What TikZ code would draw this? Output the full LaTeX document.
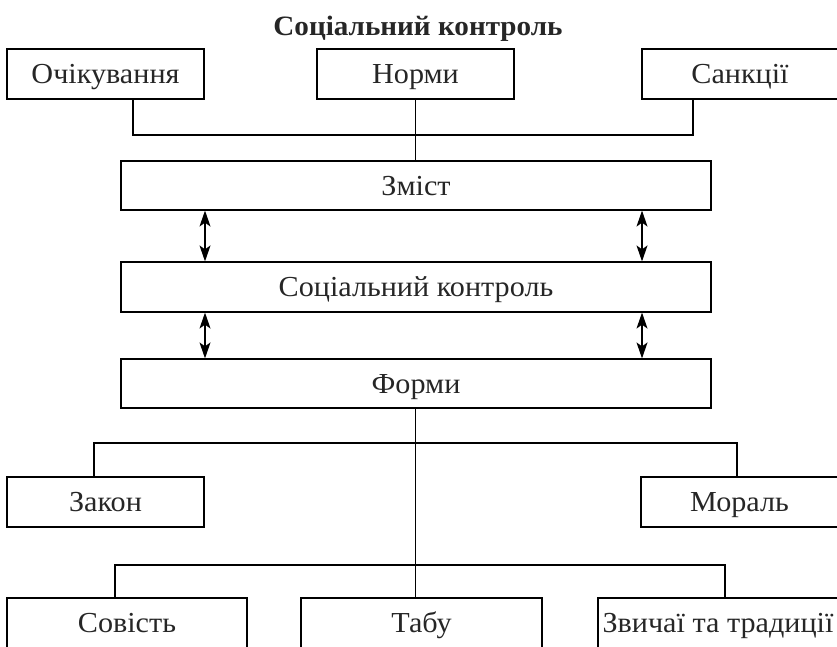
\documentclass[tikz,border=0pt]{standalone}
\usepackage{fontspec}
\setmainfont{Liberation Serif}[FakeStretch=1.04]
\usetikzlibrary{arrows.meta}
\begin{document}
\begin{tikzpicture}[x=1pt,y=-1pt,
  box/.style={draw, line width=1.2pt, inner sep=0pt, minimum height=50pt,
    text height=21pt, text depth=2pt,
    font=\fontsize{29}{32}\selectfont, text=black!85},
  wire/.style={line width=1.2pt},
  biarrow/.style={line width=1.2pt, {Stealth[length=16pt,width=11pt,inset=4pt]}-{Stealth[length=16pt,width=11pt,inset=4pt]}}]
\useasboundingbox (0,0) rectangle (837,647);

% title
\node[font=\fontsize{28}{32}\selectfont\bfseries, text=black!85] (title) at (418,29) {Соціальний контроль};

% top row
\node[box, minimum width=197pt] (och) at (105.5,74) {Очікування};
\node[box, minimum width=197pt] (norm) at (415.5,74) {Норми};
\node[box, minimum width=196pt] (sank) at (740,74) {Санкції};

% central column
\node[box, minimum width=590pt, minimum height=49pt] (zmist) at (416,185.5) {Зміст};
\node[box, minimum width=590pt] (sk) at (416,287) {Соціальний контроль};
\node[box, minimum width=590pt, minimum height=49pt] (form) at (416,383.5) {Форми};

% middle row
\node[box, minimum width=197pt] (zakon) at (105.5,502) {Закон};
\node[box, minimum width=197pt] (moral) at (739.5,502) {Мораль};

% bottom row
\node[box, minimum width=240pt] (sov) at (127,623) {Совість};
\node[box, minimum width=241pt] (tabu) at (421.5,623) {Табу};
\node[box, minimum width=240pt] (zvy) at (718,623) {Звичаї та традиції};

% attachment columns
\coordinate (xa) at (133,0);
\coordinate (xc) at (415.5,0);
\coordinate (xb) at (693,0);
\coordinate (xl) at (205,0);
\coordinate (xr) at (642,0);
\coordinate (xz) at (94,0);
\coordinate (xm) at (737,0);
\coordinate (xs) at (115,0);
\coordinate (xv) at (725,0);
\coordinate (ytop) at (0,135);
\coordinate (ymid) at (0,443);
\coordinate (ybot) at (0,565);

% top bracket
\draw[wire] (och.south -| xa) -- (xa |- ytop) -- (xb |- ytop) -- (sank.south -| xb);
\draw[wire] (norm.south -| xc) -- (zmist.north -| xc);

% two-way arrows
\draw[biarrow] (zmist.south -| xl) -- (sk.north -| xl);
\draw[biarrow] (zmist.south -| xr) -- (sk.north -| xr);
\draw[biarrow] (sk.south -| xl) -- (form.north -| xl);
\draw[biarrow] (sk.south -| xr) -- (form.north -| xr);

% lower tree
\draw[wire] (form.south -| xc) -- (tabu.north -| xc);
\draw[wire] (zakon.north -| xz) -- (xz |- ymid) -- (xm |- ymid) -- (moral.north -| xm);
\draw[wire] (sov.north -| xs) -- (xs |- ybot) -- (xv |- ybot) -- (zvy.north -| xv);
\end{tikzpicture}
\end{document}
